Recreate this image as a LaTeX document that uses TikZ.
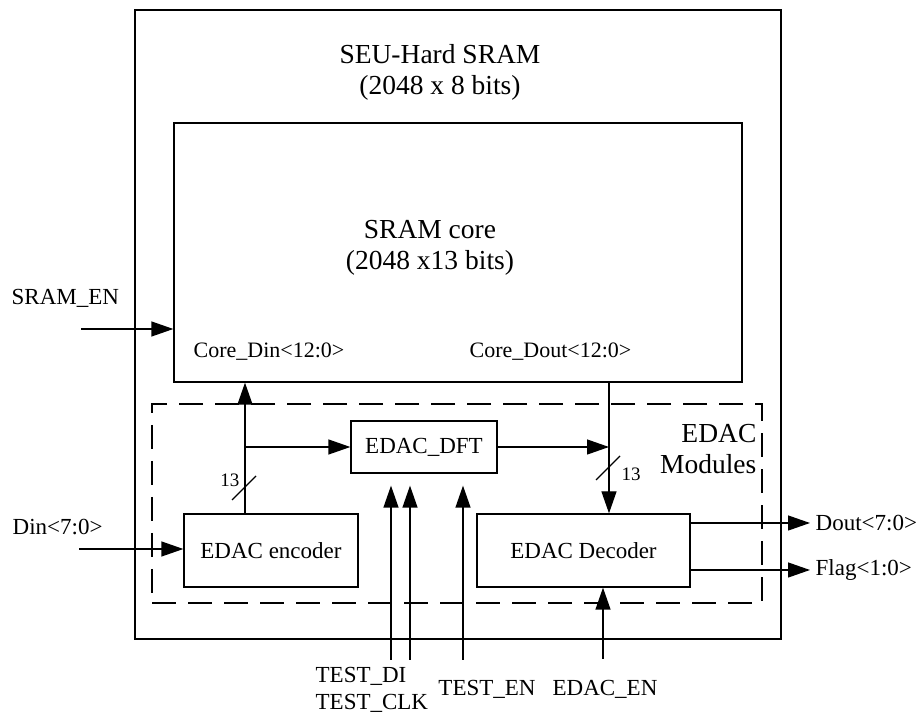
\documentclass[tikz,border=0pt]{standalone}
\usepackage{fontspec}
\setmainfont{Liberation Serif}
\usetikzlibrary{arrows.meta}
\newcommand{\TitleFont}{\fontsize{13.75}{15.5}\selectfont}
\newcommand{\LabelFont}{\fontsize{11.5}{13.5}\selectfont}
\newcommand{\PortFont}{\fontsize{11}{13}\selectfont}
\newcommand{\WidthFont}{\fontsize{9.5}{11}\selectfont}
\newcommand{\BusMark}[2]{
  \begin{scope}[shift={#1}]
    \draw(-12,12)--(12,-12);
    \node[font=\WidthFont,inner sep=0pt,#2]{13};
  \end{scope}
}

\begin{document}
\begin{tikzpicture}[x=0.5pt,y=-0.5pt,>={Triangle[length=11pt,width=7.5pt]},line width=0.65pt,
  blk/.style={draw,inner sep=0pt,align=center,font=\LabelFont},
  lbl/.style={inner sep=0pt,font=\LabelFont}]
  \useasboundingbox (0,0) rectangle (917,715);
  \node[blk,line width=1.3pt,minimum width=323pt,minimum height=314.5pt](sram) at (458,324.5){};
  \node[font=\TitleFont,align=center](title) at (440,72.5){SEU-Hard SRAM\\(2048 x 8 bits)};
  \node[blk,minimum width=284pt,minimum height=129.5pt](core) at (458,252.5){};
  \node[font=\TitleFont,align=center](coretxt) at (430,247.5){SRAM core\\(2048 x13 bits)};
  \node[lbl,font=\PortFont,anchor=west](cdin) at (193,352){Core\_Din<12:0>};
  \node[lbl,font=\PortFont,anchor=west](cdout) at (469,352){Core\_Dout<12:0>};
  \node[draw,dash pattern=on 12pt off 6pt,minimum width=305pt,minimum height=99.5pt,inner sep=0pt](edac) at (457,503.5){};
  \node[font=\TitleFont,align=right,anchor=east,inner sep=0pt](edactxt) at (757,449){EDAC\\Modules};
  \node[blk,minimum width=87pt,minimum height=36.5pt](enc) at (271,550.5){EDAC encoder};
  \node[blk,minimum width=73pt,minimum height=26pt](dft) at (424,447){EDAC\_DFT};
  \node[blk,minimum width=106.5pt,minimum height=36.5pt](dec) at (583.5,550.5){EDAC Decoder};
  \node[lbl,anchor=west](sramen) at (11,298){SRAM\_EN};
  \coordinate(sramin) at (81,329);
  \draw[->](sramin)--(sramin-|core.west);
  \node[lbl,anchor=west](din) at (12,527){Din<7:0>};
  \coordinate(dinin) at (79,549);
  \draw[->](dinin)--(dinin-|enc.west);
  \node[lbl,anchor=west,inner sep=2.5pt](dout) at (810,523){Dout<7:0>};
  \node[lbl,anchor=west,inner sep=2.5pt](flag) at (810,570){Flag<1:0>};
  \draw[->](dec.east|-dout.west)--(dout.west);
  \draw[->](dec.east|-flag.west)--(flag.west);
  \coordinate(dinbus) at (245,447);
  \draw[->](dinbus|-enc.north)--(dinbus|-core.south);
  \draw[->](dinbus)--(dft.west);
  \coordinate(doutbus) at (609,447);
  \draw[->](dft.east)--(doutbus);
  \draw[->](doutbus|-core.south)--(doutbus|-dec.north);
  \BusMark{(244,488)}{anchor=east,at={(-4,-8)}}
  \BusMark{(608,468)}{anchor=west,at={(13,6)}}
  \foreach \x/\n in {391/tdi,410/tclk,463/ten}
  {
    \coordinate(\n) at (\x,660);
    \draw[->,shorten >=6pt](\n)--(\n|-dft.south);
  }
  \node[lbl,anchor=west](tdilbl) at (315,676){TEST\_DI};
  \node[lbl,anchor=west](tclklbl) at (315,703){TEST\_CLK};
  \node[lbl](tenlbl) at (487,689){TEST\_EN};
  \node[lbl](eenlbl) at (605,689){EDAC\_EN};
  \coordinate(een) at (603,659);
  \draw[->](een)--(een|-dec.south);
\end{tikzpicture}
\end{document}
